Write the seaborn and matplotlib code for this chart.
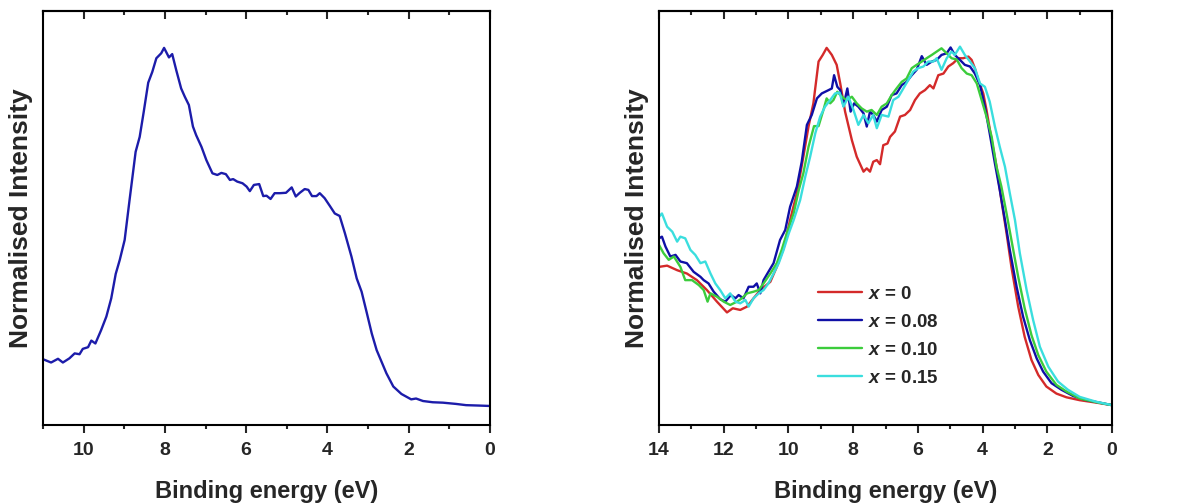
import numpy as np
import pandas as pd
import seaborn as sns
import matplotlib.pyplot as plt

# Left panel: single spectrum
left_energy = [11.0, 10.80, 10.63, 10.51, 10.35, 10.22, 10.10, 10.02, 9.89, 9.81, 9.71, 9.57, 9.44, 9.32,
               9.21, 9.11, 8.99, 8.87, 8.72, 8.62, 8.52, 8.41, 8.31, 8.21, 8.09, 8.02, 7.90, 7.82, 7.72,
               7.60, 7.51, 7.41, 7.31, 7.23, 7.10, 6.98, 6.83, 6.71, 6.61, 6.50, 6.40, 6.32, 6.22, 6.09,
               5.99, 5.91, 5.81, 5.68, 5.58, 5.50, 5.40, 5.30, 5.17, 5.02, 4.88, 4.78, 4.68, 4.56, 4.47,
               4.38, 4.27, 4.19, 4.07, 3.94, 3.82, 3.70, 3.57, 3.41, 3.28, 3.16, 3.04, 2.91, 2.79, 2.67,
               2.55, 2.38, 2.18, 1.94, 1.82, 1.65, 1.41, 1.16, 0.84, 0.59, 0.27, 0.0]
left_intensity = [0.159, 0.151, 0.160, 0.151, 0.161, 0.173, 0.171, 0.184, 0.188, 0.204, 0.197, 0.229, 0.262,
                  0.306, 0.365, 0.399, 0.447, 0.543, 0.660, 0.696, 0.757, 0.827, 0.853, 0.886, 0.898, 0.911,
                  0.888, 0.896, 0.857, 0.813, 0.793, 0.773, 0.721, 0.700, 0.672, 0.640, 0.608, 0.604, 0.609,
                  0.606, 0.592, 0.594, 0.588, 0.584, 0.576, 0.565, 0.580, 0.582, 0.553, 0.554, 0.546, 0.560,
                  0.560, 0.561, 0.574, 0.552, 0.561, 0.570, 0.568, 0.553, 0.553, 0.560, 0.548, 0.529, 0.511,
                  0.505, 0.463, 0.407, 0.354, 0.322, 0.274, 0.221, 0.181, 0.153, 0.125, 0.093, 0.075, 0.062,
                  0.064, 0.058, 0.055, 0.054, 0.051, 0.048, 0.047, 0.046]

# Right panel: four compositions
e_x0 = [14.0, 13.75, 13.44, 13.14, 12.83, 12.52, 12.21, 11.90, 11.72, 11.49, 11.28, 11.08, 10.87, 10.56,
        10.36, 10.15, 9.95, 9.74, 9.54, 9.38, 9.23, 9.07, 8.94, 8.82, 8.66, 8.51, 8.40, 8.25, 8.04, 7.89,
        7.68, 7.58, 7.48, 7.38, 7.27, 7.17, 7.07, 6.94, 6.86, 6.71, 6.55, 6.40, 6.24, 6.09, 5.94, 5.78,
        5.63, 5.52, 5.37, 5.21, 5.06, 4.91, 4.75, 4.60, 4.44, 4.34, 4.24, 4.13, 3.98, 3.88, 3.72, 3.57,
        3.42, 3.26, 3.11, 2.90, 2.70, 2.49, 2.28, 2.03, 1.72, 1.41, 1.00, 0.48, 0.0]
i_x0 = [0.382, 0.385, 0.374, 0.366, 0.350, 0.326, 0.298, 0.272, 0.282, 0.278, 0.286, 0.306, 0.326, 0.346,
        0.382, 0.427, 0.495, 0.560, 0.648, 0.721, 0.777, 0.878, 0.894, 0.911, 0.894, 0.870, 0.825, 0.757,
        0.688, 0.648, 0.612, 0.620, 0.612, 0.636, 0.640, 0.630, 0.676, 0.680, 0.696, 0.709, 0.745, 0.749,
        0.761, 0.785, 0.801, 0.809, 0.821, 0.813, 0.845, 0.849, 0.866, 0.874, 0.886, 0.886, 0.890, 0.882,
        0.862, 0.833, 0.801, 0.761, 0.688, 0.624, 0.543, 0.463, 0.382, 0.286, 0.213, 0.157, 0.121, 0.093,
        0.076, 0.067, 0.060, 0.054, 0.048]

e_x008 = [14.0, 13.91, 13.80, 13.65, 13.49, 13.34, 13.14, 12.93, 12.72, 12.62, 12.47, 12.31, 12.11, 11.95,
          11.78, 11.64, 11.54, 11.39, 11.23, 11.08, 10.98, 10.87, 10.77, 10.62, 10.46, 10.26, 10.10, 9.95,
          9.74, 9.59, 9.43, 9.28, 9.12, 8.97, 8.76, 8.66, 8.59, 8.49, 8.40, 8.30, 8.18, 8.08, 7.97, 7.84,
          7.68, 7.58, 7.48, 7.38, 7.27, 7.12, 6.96, 6.81, 6.66, 6.50, 6.35, 6.19, 6.04, 5.88, 5.73, 5.57,
          5.42, 5.27, 5.11, 4.99, 4.86, 4.70, 4.55, 4.39, 4.24, 4.08, 3.93, 3.78, 3.62, 3.47, 3.31, 3.16,
          2.95, 2.75, 2.54, 2.33, 2.13, 1.87, 1.56, 1.20, 0.79, 0.38, 0.0]
i_x008 = [0.451, 0.455, 0.431, 0.407, 0.411, 0.395, 0.391, 0.370, 0.358, 0.350, 0.342, 0.322, 0.304, 0.298,
          0.314, 0.306, 0.314, 0.306, 0.334, 0.334, 0.342, 0.318, 0.350, 0.370, 0.391, 0.447, 0.471, 0.527,
          0.576, 0.636, 0.725, 0.749, 0.789, 0.801, 0.809, 0.813, 0.845, 0.817, 0.809, 0.771, 0.813, 0.757,
          0.777, 0.769, 0.753, 0.721, 0.757, 0.749, 0.733, 0.761, 0.769, 0.797, 0.801, 0.821, 0.829, 0.845,
          0.858, 0.891, 0.870, 0.878, 0.882, 0.894, 0.898, 0.912, 0.894, 0.882, 0.870, 0.866, 0.849, 0.821,
          0.769, 0.704, 0.632, 0.568, 0.495, 0.423, 0.334, 0.262, 0.205, 0.161, 0.129, 0.101, 0.085, 0.070,
          0.060, 0.054, 0.048]

e_x010 = [14.0, 13.86, 13.70, 13.54, 13.34, 13.19, 12.98, 12.77, 12.62, 12.50, 12.41, 12.21, 12.00, 11.80,
          11.59, 11.44, 11.28, 11.08, 10.92, 10.77, 10.56, 10.36, 10.21, 10.05, 9.84, 9.68, 9.54, 9.38,
          9.21, 9.07, 8.92, 8.82, 8.71, 8.61, 8.49, 8.35, 8.20, 8.04, 7.89, 7.74, 7.58, 7.43, 7.27, 7.12,
          6.96, 6.81, 6.66, 6.50, 6.35, 6.19, 6.04, 5.88, 5.73, 5.57, 5.42, 5.27, 5.11, 4.96, 4.80, 4.65,
          4.49, 4.34, 4.18, 4.03, 3.88, 3.72, 3.57, 3.42, 3.26, 3.11, 2.90, 2.70, 2.49, 2.28, 2.03, 1.72,
          1.41, 1.00, 0.48, 0.0]
i_x010 = [0.435, 0.415, 0.399, 0.407, 0.382, 0.350, 0.350, 0.338, 0.326, 0.298, 0.318, 0.310, 0.298, 0.290,
          0.298, 0.306, 0.318, 0.322, 0.326, 0.342, 0.366, 0.391, 0.423, 0.463, 0.511, 0.568, 0.608, 0.672,
          0.722, 0.722, 0.761, 0.789, 0.777, 0.785, 0.805, 0.793, 0.785, 0.793, 0.777, 0.765, 0.757, 0.761,
          0.749, 0.769, 0.777, 0.797, 0.813, 0.829, 0.837, 0.862, 0.870, 0.878, 0.886, 0.894, 0.902, 0.910,
          0.898, 0.886, 0.883, 0.862, 0.849, 0.845, 0.825, 0.785, 0.745, 0.696, 0.624, 0.576, 0.511, 0.447,
          0.358, 0.282, 0.217, 0.169, 0.129, 0.097, 0.081, 0.064, 0.055, 0.048]

e_x015 = [14.0, 13.91, 13.75, 13.59, 13.44, 13.34, 13.19, 13.03, 12.88, 12.72, 12.57, 12.41, 12.26, 12.11,
          11.95, 11.80, 11.64, 11.49, 11.33, 11.23, 11.08, 10.92, 10.77, 10.62, 10.46, 10.30, 10.15, 9.99,
          9.84, 9.64, 9.48, 9.33, 9.17, 9.02, 8.87, 8.71, 8.56, 8.42, 8.30, 8.15, 7.99, 7.84, 7.68, 7.53,
          7.38, 7.27, 7.12, 6.91, 6.76, 6.60, 6.45, 6.30, 6.14, 5.99, 5.83, 5.68, 5.52, 5.42, 5.27, 5.11,
          4.96, 4.86, 4.70, 4.55, 4.39, 4.24, 4.08, 3.93, 3.78, 3.62, 3.47, 3.31, 3.16, 3.00, 2.85, 2.64,
          2.44, 2.23, 1.97, 1.67, 1.36, 1.00, 0.48, 0.0]
i_x015 = [0.503, 0.511, 0.479, 0.467, 0.443, 0.455, 0.451, 0.423, 0.411, 0.391, 0.395, 0.366, 0.342, 0.326,
          0.306, 0.318, 0.298, 0.294, 0.302, 0.286, 0.306, 0.318, 0.326, 0.342, 0.366, 0.391, 0.423, 0.463,
          0.495, 0.543, 0.600, 0.648, 0.705, 0.745, 0.769, 0.785, 0.801, 0.803, 0.769, 0.793, 0.761, 0.725,
          0.749, 0.729, 0.749, 0.717, 0.749, 0.745, 0.785, 0.793, 0.813, 0.833, 0.854, 0.862, 0.866, 0.878,
          0.878, 0.886, 0.858, 0.886, 0.902, 0.894, 0.914, 0.894, 0.878, 0.862, 0.825, 0.817, 0.781, 0.721,
          0.672, 0.624, 0.560, 0.495, 0.415, 0.326, 0.254, 0.189, 0.141, 0.105, 0.085, 0.068, 0.056, 0.048]

labels = ["0", "0.08", "0.10", "0.15"]
colors = ["#d42a2a", "#0f0fa6", "#3ccc3c", "#3adede"]
xlabel = "Binding energy (eV)"
ylabel = "Normalised Intensity"

sns.set_style("ticks")
plt.rcParams["font.family"] = ["Liberation Sans", "DejaVu Sans"]
plt.rcParams["font.weight"] = "bold"
plt.rcParams["mathtext.fontset"] = "custom"
plt.rcParams["mathtext.it"] = "Liberation Sans:italic:bold"
plt.rcParams["mathtext.rm"] = "Liberation Sans:bold"

fig = plt.figure(figsize=(11.9, 5.04), dpi=100)
ax1 = fig.add_axes([0.0361, 0.1567, 0.3757, 0.8214])
ax2 = fig.add_axes([0.5538, 0.1567, 0.3807, 0.8214])

sns.lineplot(x=left_energy, y=left_intensity, ax=ax1, color="#1c1caa", lw=1.7,
             sort=False, estimator=None)

right_sets = [(e_x0, i_x0), (e_x008, i_x008), (e_x010, i_x010), (e_x015, i_x015)]
frames = []
for (e, i), lab in zip(right_sets, labels):
    frames.append(pd.DataFrame({"E": e, "I": i, "x": r"$x$ = " + lab}))
df = pd.concat(frames, ignore_index=True)
sns.lineplot(data=df, x="E", y="I", hue="x", palette=colors, ax=ax2, lw=1.7,
             sort=False, estimator=None)

for ax, xmax in [(ax1, 11), (ax2, 14)]:
    ax.set_xlim(xmax, 0)
    ax.set_ylim(0, 1)
    ax.set_xticks(np.arange(0, xmax + 1, 2))
    ax.set_xticks(np.arange(1, xmax + 1, 2), minor=True)
    ax.set_yticks([])
    ax.tick_params(axis="x", which="major", direction="out", length=6, width=1.5,
                   labelsize=14, pad=6)
    ax.tick_params(axis="x", which="minor", direction="out", length=3, width=1.5)
    for s in ax.spines.values():
        s.set_visible(True)
        s.set_linewidth(1.5)
        s.set_color("black")
    top = ax.secondary_xaxis("top")
    top.set_xticks(np.arange(0, xmax + 1, 2))
    top.set_xticks(np.arange(1, xmax + 1, 2), minor=True)
    top.tick_params(axis="x", which="major", direction="in", length=6, width=1.5, labeltop=False)
    top.tick_params(axis="x", which="minor", direction="in", length=3, width=1.5)
    top.spines["top"].set_linewidth(1.5)
    ax.set_xlabel(xlabel, fontsize=17, fontweight="bold", labelpad=15)
    ax.set_ylabel(ylabel, fontsize=19, fontweight="bold", labelpad=7)

leg = ax2.legend(loc="upper left", bbox_to_anchor=(0.335, 0.355), frameon=False,
                 fontsize=13.5, handlelength=2.35, handletextpad=0.3, labelspacing=0.58,
                 borderaxespad=0)
for line in leg.get_lines():
    line.set_linewidth(1.7)

fig.savefig("out.png", dpi=100)
